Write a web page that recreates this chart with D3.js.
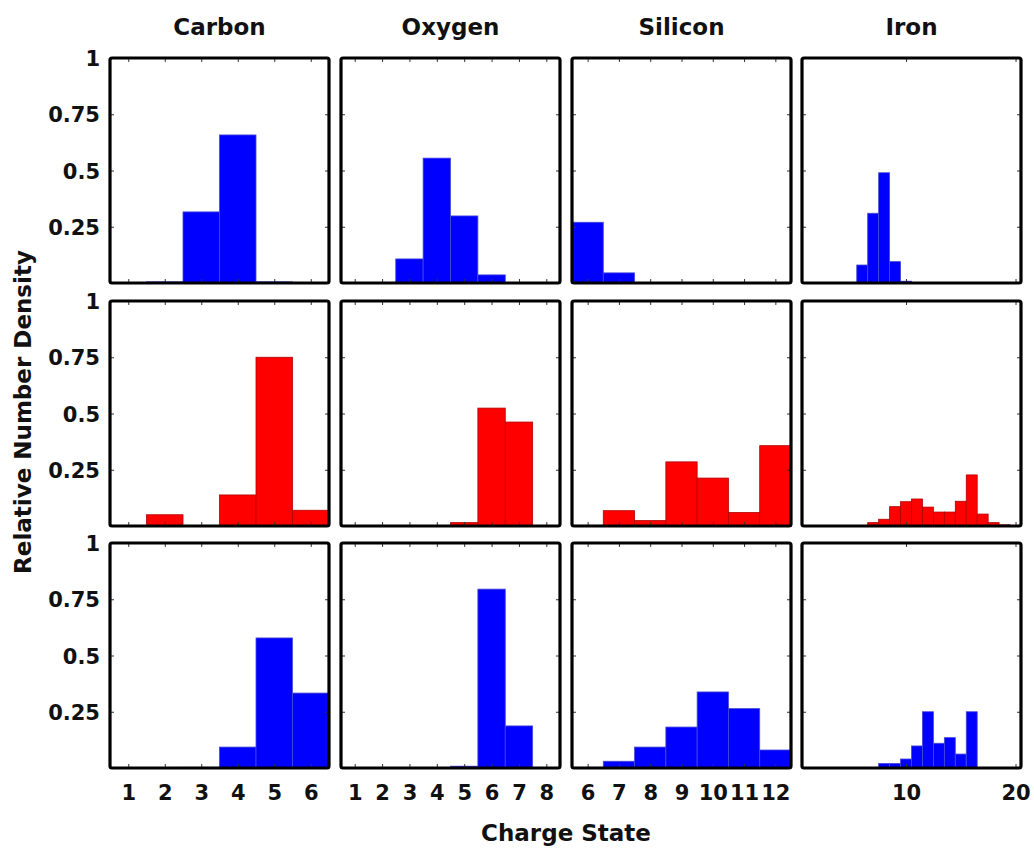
<!DOCTYPE html>
<html>
<head>
<meta charset="utf-8">
<script src="https://cdn.jsdelivr.net/npm/d3@7"></script>
<style>
  html, body { margin: 0; padding: 0; background: #fff; }
  svg text { font-family: "DejaVu Sans", "Liberation Sans", sans-serif; font-weight: bold; fill: #111; }
</style>
</head>
<body>
<svg id="chart" width="1034" height="852"></svg>
<script>
// Element names (column titles)
const elements = ["Carbon", "Oxygen", "Silicon", "Iron"];

// Charge states for each element
const carbonStates  = [1, 2, 3, 4, 5, 6];
const oxygenStates  = [1, 2, 3, 4, 5, 6, 7, 8];
const siliconStates = [6, 7, 8, 9, 10, 11, 12];
const ironStates    = [6, 7, 8, 9, 10, 11, 12, 13, 14, 15, 16, 17, 18, 19];

// Relative number density, top row
const carbonTop  = [0.002, 0.005, 0.316, 0.658, 0.005, 0.001];
const oxygenTop  = [0.001, 0.001, 0.107, 0.555, 0.298, 0.036, 0.002, 0.001];
const siliconTop = [0.270, 0.045, 0.002, 0.002, 0.002, 0.002, 0.002];
const ironTop    = [0.080, 0.310, 0.490, 0.095, 0.008, 0, 0, 0, 0, 0, 0, 0, 0, 0];

// Relative number density, middle row
const carbonMid  = [0.001, 0.050, 0.002, 0.138, 0.750, 0.070];
const oxygenMid  = [0.001, 0.001, 0.001, 0.001, 0.015, 0.524, 0.462, 0.002];
const siliconMid = [0.003, 0.068, 0.024, 0.285, 0.213, 0.060, 0.357];
const ironMid    = [0.002, 0.015, 0.030, 0.086, 0.108, 0.120, 0.084, 0.062, 0.062, 0.110, 0.227, 0.053, 0.015, 0.005];

// Relative number density, bottom row
const carbonBot  = [0.001, 0.001, 0.003, 0.093, 0.578, 0.333];
const oxygenBot  = [0.001, 0.001, 0.001, 0.001, 0.008, 0.795, 0.187, 0.002];
const siliconBot = [0.003, 0.030, 0.093, 0.182, 0.338, 0.264, 0.080];
const ironBot    = [0, 0, 0.020, 0.020, 0.040, 0.098, 0.250, 0.110, 0.135, 0.062, 0.250, 0, 0, 0];

// Axis settings
const xDomains = [[0.5, 6.5], [0.5, 8.5], [5.5, 12.5], [0.5, 20.5]];
const xTickValues = [[1, 2, 3, 4, 5, 6], [1, 2, 3, 4, 5, 6, 7, 8], [6, 7, 8, 9, 10, 11, 12], [10, 20]];
const yTickValues = [0.25, 0.5, 0.75, 1];
const yTickLabels = ["0.25", "0.5", "0.75", "1"];

const states = [carbonStates, oxygenStates, siliconStates, ironStates];
const rows = [
  { values: [carbonTop, oxygenTop, siliconTop, ironTop], fill: "#0000ff", edge: "#4848d8" },
  { values: [carbonMid, oxygenMid, siliconMid, ironMid], fill: "#ff0000", edge: "#b00000" },
  { values: [carbonBot, oxygenBot, siliconBot, ironBot], fill: "#0000ff", edge: "#4848d8" }
];

// Layout
const panelW = 219, panelH = 225;
const colX = [110, 341, 572, 802];
const rowY = [58, 301, 543];

const svg = d3.select("#chart");

rows.forEach((row, r) => {
  elements.forEach((el, c) => {
    const g = svg.append("g").attr("transform", `translate(${colX[c]},${rowY[r]})`);
    const x = d3.scaleLinear().domain(xDomains[c]).range([0, panelW]);
    const y = d3.scaleLinear().domain([0, 1]).range([panelH, 0]);
    const unit = x(1) - x(0);

    const data = states[c].map((s, i) => ({ s, v: row.values[c][i] }));

    // Histogram bars, one per charge state
    g.selectAll("rect.bar").data(data).join("rect")
      .attr("class", "bar")
      .attr("x", d => x(d.s - 0.5))
      .attr("width", unit)
      .attr("y", d => y(d.v))
      .attr("height", d => panelH - y(d.v))
      .attr("fill", row.fill)
      .attr("stroke", row.edge)
      .attr("stroke-width", 0.8);

    // Inward tick marks on all four sides
    const tickLen = 4;
    const bottom = d3.axisBottom(x).tickValues(xTickValues[c]).tickSizeInner(-tickLen).tickSizeOuter(0)
      .tickFormat(r === 2 ? d3.format("d") : "");
    const gb = g.append("g").attr("transform", `translate(0,${panelH})`).call(bottom);
    const top = d3.axisTop(x).tickValues(xTickValues[c]).tickSizeInner(-tickLen).tickSizeOuter(0).tickFormat("");
    const gt = g.append("g").call(top);
    const left = d3.axisLeft(y).tickValues(yTickValues).tickSizeInner(-tickLen).tickSizeOuter(0)
      .tickFormat((d, i) => c === 0 ? yTickLabels[i] : "");
    const gl = g.append("g").call(left);
    const right = d3.axisRight(y).tickValues(yTickValues).tickSizeInner(-tickLen).tickSizeOuter(0).tickFormat("");
    const gr = g.append("g").attr("transform", `translate(${panelW},0)`).call(right);

    [gb, gt, gl, gr].forEach(a => {
      a.select(".domain").remove();
      a.selectAll(".tick line").attr("stroke", "#333").attr("stroke-width", 1);
    });
    gb.selectAll(".tick text").attr("dy", 0).attr("y", 32)
      .style("font-size", "21px").style("font-family", '"DejaVu Sans", sans-serif').style("font-weight", "bold").attr("fill", "#111");
    gl.selectAll(".tick text").attr("x", -10).attr("dy", "0.36em")
      .style("font-size", "21px").style("font-family", '"DejaVu Sans", sans-serif').style("font-weight", "bold").attr("fill", "#111");

    // Panel frame
    g.append("rect")
      .attr("x", 0).attr("y", 0).attr("width", panelW).attr("height", panelH)
      .attr("fill", "none").attr("stroke", "#000").attr("stroke-width", 3.2)
      .attr("rx", 2);

    if (r === 0) {
      svg.append("text")
        .attr("x", colX[c] + panelW / 2).attr("y", 35)
        .attr("text-anchor", "middle")
        .style("font-size", "23px")
        .text(el);
    }
  });
});

// Axis titles
svg.append("text")
  .attr("x", 566).attr("y", 841)
  .attr("text-anchor", "middle")
  .style("font-size", "23px")
  .text("Charge State");

svg.append("text")
  .attr("transform", "translate(31,412) rotate(-90)")
  .attr("text-anchor", "middle")
  .style("font-size", "23px")
  .text("Relative Number Density");
</script>
</body>
</html>
